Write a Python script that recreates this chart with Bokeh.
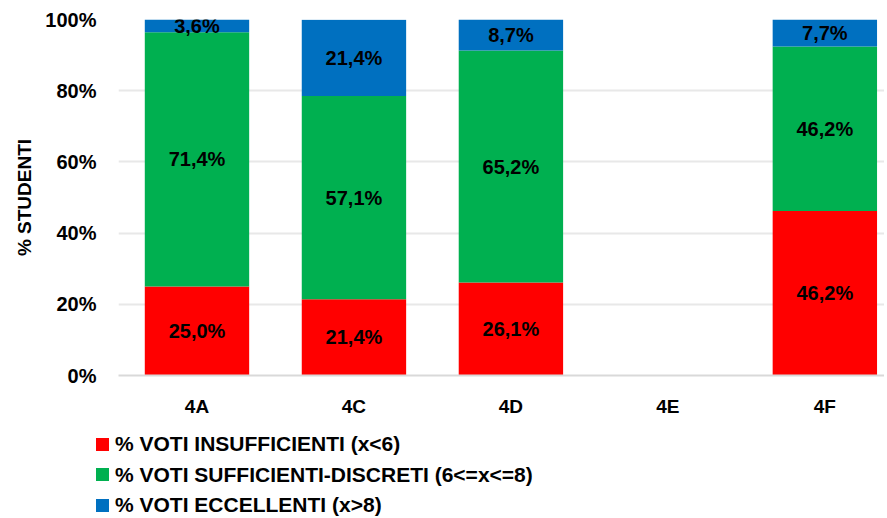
import html
from bokeh.plotting import figure
from bokeh.layouts import column
from bokeh.models import (ColumnDataSource, Range1d, FixedTicker, NumeralTickFormatter, Div)
from bokeh.core.properties import value
from bokeh.embed import file_html
from bokeh.resources import INLINE

classes = ["4A", "4C", "4D", "4E", "4F"]
insufficienti = [25.0, 21.4, 26.1, 0.0, 46.2]
sufficienti = [71.4, 57.1, 65.2, 0.0, 46.2]
eccellenti = [3.6, 21.4, 8.7, 0.0, 7.7]
series_names = ["% VOTI INSUFFICIENTI (x<6)",
                "% VOTI SUFFICIENTI-DISCRETI (6<=x<=8)",
                "% VOTI ECCELLENTI (x>8)"]
colors = ["#FF0000", "#00B050", "#0070C0"]
y_ticks = [0, 0.2, 0.4, 0.6, 0.8, 1.0]

FONT = "Liberation Sans"
xs = list(range(len(classes)))
src = ColumnDataSource(dict(
    x=xs,
    ins=[v / 100 for v in insufficienti],
    suf=[v / 100 for v in sufficienti],
    ecc=[v / 100 for v in eccellenti],
))

p = figure(frame_width=766, frame_height=356, output_backend="svg", toolbar_location=None,
           x_range=Range1d(-0.5, 4.38), y_range=Range1d(0, 1),
           min_border_left=118, min_border_right=0, min_border_top=19, min_border_bottom=0)
p.outline_line_color = None

rs = p.vbar_stack(["ins", "suf", "ecc"], x="x", width=0.665, color=colors, source=src,
                  line_color=None)

# labels
lx, ly, lt = [], [], []
for i, vals in enumerate(zip(insufficienti, sufficienti, eccellenti)):
    base = 0.0
    for v in vals:
        if v > 0:
            lx.append(i)
            ly.append((base + v / 2) / 100)
            lt.append(f"{v:.1f}%".replace(".", ","))
        base += v
lsrc = ColumnDataSource(dict(x=lx, y=ly, t=lt))
p.text(x="x", y="y", text="t", source=lsrc, text_align="center", text_baseline="middle",
       text_font=value(FONT), text_font_style="bold", text_font_size="20px", text_color="black")

# axes
p.xaxis.ticker = FixedTicker(ticks=xs)
p.xaxis.major_label_overrides = {i: c for i, c in enumerate(classes)}
p.xaxis.major_tick_line_color = None
p.xaxis.major_tick_out = 0
p.xaxis.major_tick_in = 0
p.xaxis.minor_tick_line_color = None
p.xaxis.axis_line_color = "#D9D9D9"
p.xaxis.axis_line_width = 2
p.xaxis.major_label_standoff = 20
p.xaxis.major_label_text_font = FONT
p.xaxis.major_label_text_font_style = "bold"
p.xaxis.major_label_text_font_size = "19px"
p.xaxis.major_label_text_color = "black"

p.yaxis.ticker = FixedTicker(ticks=y_ticks)
p.yaxis.formatter = NumeralTickFormatter(format="0%")
p.yaxis.major_tick_line_color = None
p.yaxis.major_tick_out = 0
p.yaxis.major_tick_in = 0
p.yaxis.minor_tick_line_color = None
p.yaxis.axis_line_color = None
p.yaxis.major_label_standoff = 22
p.yaxis.major_label_text_font = FONT
p.yaxis.major_label_text_font_style = "bold"
p.yaxis.major_label_text_font_size = "20px"
p.yaxis.major_label_text_color = "black"
p.yaxis.axis_label = "% STUDENTI"
p.yaxis.axis_label_text_font = FONT
p.yaxis.axis_label_text_font_style = "bold"
p.yaxis.axis_label_text_font_size = "19px"
p.yaxis.axis_label_text_color = "black"
p.yaxis.axis_label_standoff = 7

p.xgrid.grid_line_color = None
p.ygrid.grid_line_color = "#E8E8E8"
p.ygrid.grid_line_width = 2

# legend below the chart, built from the series names and colours
rows = []
for name, c in zip(series_names, colors):
    rows.append(
        f'<div style="display:flex;align-items:center;height:30.5px;white-space:nowrap;">'
        f'<span style="display:inline-block;width:13px;height:13px;background:{c};'
        f'margin-right:6px;flex:none;"></span>{html.escape(name)}</div>'
    )
legend_html = (
    f'<div style="font-family:\'{FONT}\',\'Liberation Sans\',Arial,sans-serif;font-weight:bold;'
    f'font-size:21px;color:black;padding-left:96px;padding-top:10px;">'
    + "".join(rows) + "</div>"
)
legend_div = Div(text=legend_html, width=884, height=100, margin=0)

layout = column(p, legend_div, spacing=0)
open("out.html", "w").write(file_html(layout, INLINE))
